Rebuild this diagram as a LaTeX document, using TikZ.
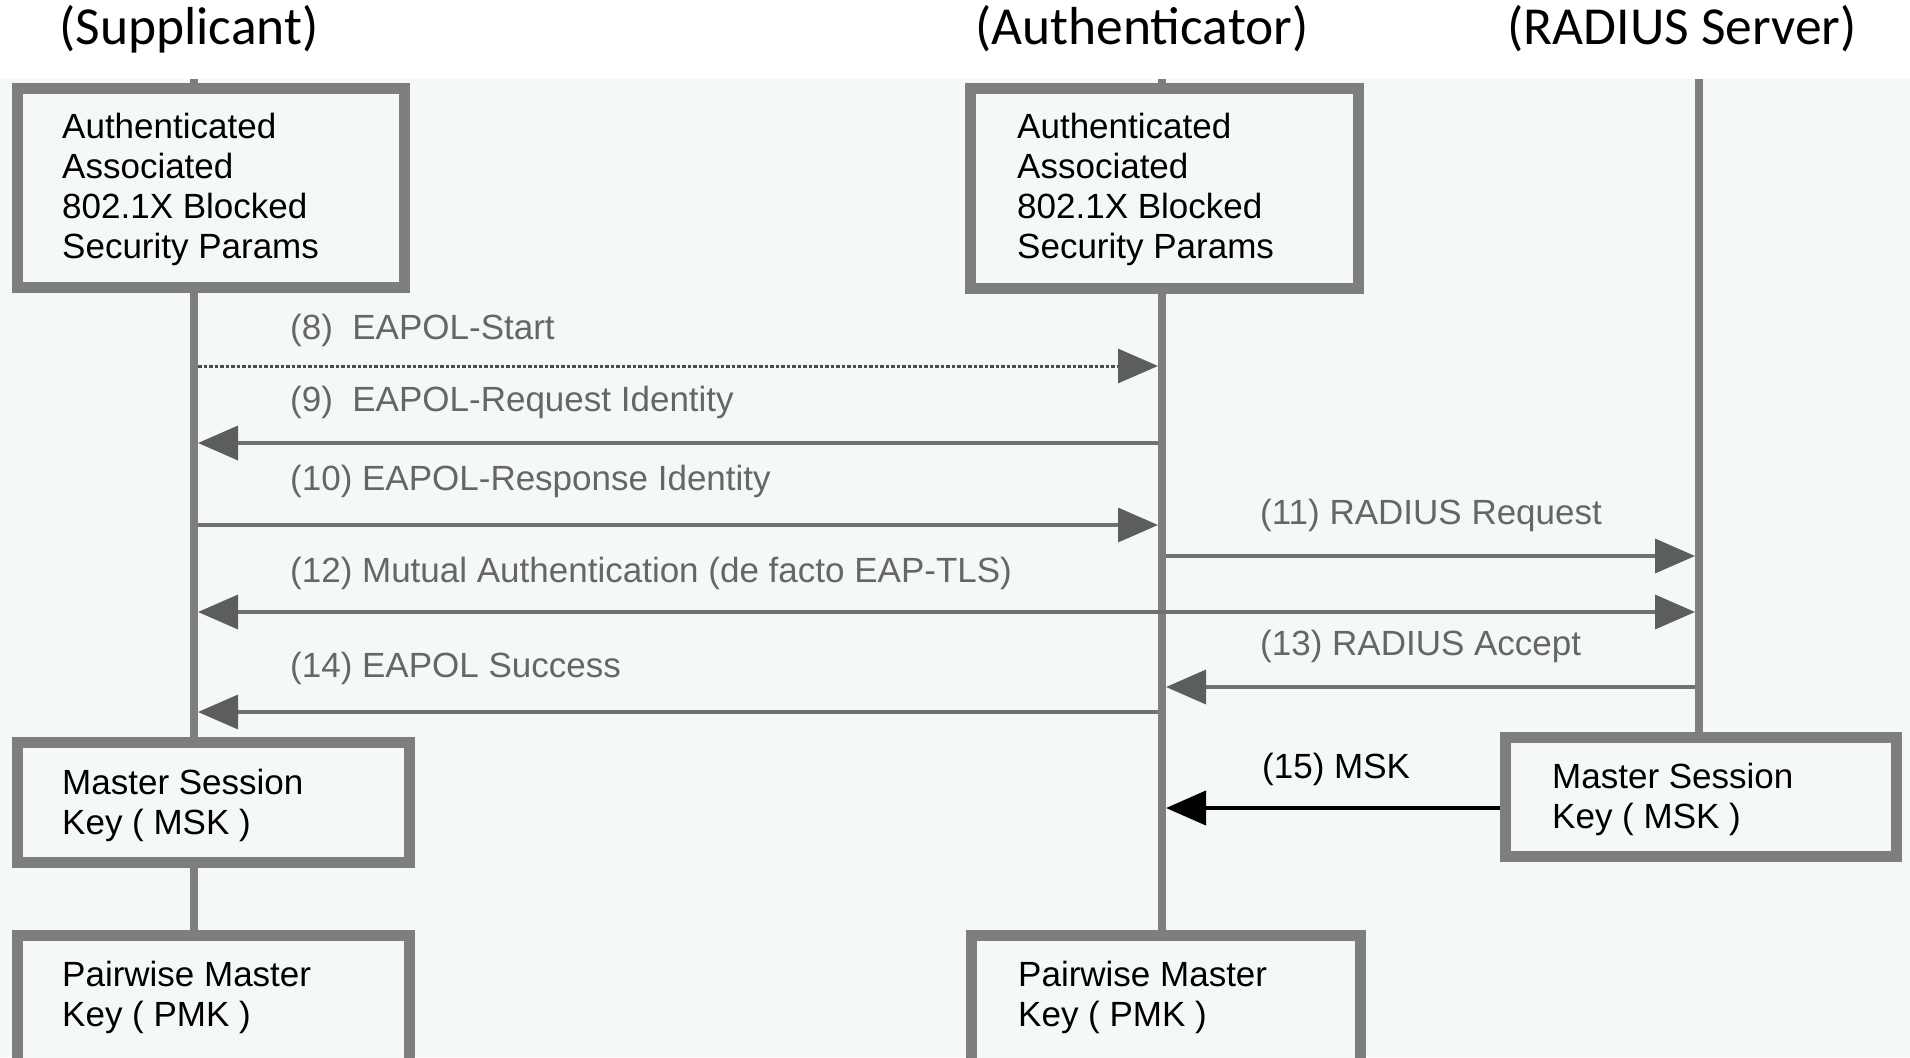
\documentclass[tikz,border=0pt]{standalone}
\usepackage{fontspec}
\setmainfont{Liberation Sans}
\newfontfamily\titlefont{Carlito}
\usetikzlibrary{arrows.meta}
\definecolor{bg}{RGB}{245,249,246}
\definecolor{frame}{RGB}{125,126,125}
\definecolor{msg}{RGB}{112,113,113}
\definecolor{msgtext}{RGB}{102,102,102}
\definecolor{head}{RGB}{92,93,93}
\begin{document}
\begin{tikzpicture}[x=1pt,y=-1pt,
  box/.style={draw=frame, line width=11pt, fill=bg, inner sep=0pt},
  life/.style={draw=frame, line width=8pt},
  btext/.style={anchor=base west, align=left, inner sep=0pt, font=\fontsize{35}{40}\selectfont},
  ltext/.style={anchor=base west, inner sep=0pt, text=msgtext, font=\fontsize{35}{40}\selectfont},
  ttext/.style={anchor=base, inner sep=0pt, font=\titlefont\fontsize{53.5}{60}\selectfont},
  msgarrow/.style={draw=msg, line width=3.5pt, -{Triangle[length=40pt,width=34pt,color=head]}},
  mskarrow/.style={draw=black, line width=4pt, -{Triangle[length=40pt,width=34pt,color=black]}}
]
\clip (0,0) rectangle (1910,1057);
\fill[white] (0,0) rectangle (1910,1057);
\fill[bg] (0,79) rectangle (1910,1057);

% titles
\node[ttext] (tS) at (189,45) {(Supplicant)};
\node[ttext] (tA) at (1142,45) {(Authenticator)};
\node[ttext] (tR) at (1682,45) {(RADIUS Server)};

% lifelines
\coordinate (Stop) at (194,79);
\coordinate (Sbot) at (194,940);
\coordinate (Atop) at (1162,79);
\coordinate (Abot) at (1162,940);
\coordinate (Rtop) at (1699,79);
\coordinate (Rbot) at (1699,740);
\draw[life] (Stop) -- (Sbot);
\draw[life] (Atop) -- (Abot);
\draw[life] (Rtop) -- (Rbot);

% boxes
\node[box, minimum width=387pt, minimum height=199pt] (b1) at (211,188) {};
\node[box, minimum width=388pt, minimum height=200pt] (b2) at (1164.5,188.5) {};
\node[box, minimum width=392pt, minimum height=120pt] (m1) at (213.5,802.5) {};
\node[box, minimum width=391pt, minimum height=119pt] (mr) at (1701,797) {};
\node[box, minimum width=392pt, minimum height=190pt] (p1) at (213.5,1030) {};
\node[box, minimum width=389pt, minimum height=190pt] (p2) at (1166,1030) {};

% box texts (anchor at the baseline of the last line)
\node[btext] (b1t) at (62,258) {Authenticated\\Associated\\802.1X Blocked\\Security Params};
\node[btext] (b2t) at (1017,258) {Authenticated\\Associated\\802.1X Blocked\\Security Params};
\node[btext] (m1t) at (62,834) {Master Session\\Key ( MSK )};
\node[btext] (mrt) at (1552,828) {Master Session\\Key ( MSK )};
\node[btext] (p1t) at (62,1026) {Pairwise Master\\Key ( PMK )};
\node[btext] (p2t) at (1018,1026) {Pairwise Master\\Key ( PMK )};

% message end points on lifelines
\coordinate (s8) at (198,366);   \coordinate (a8) at (1158,366);
\coordinate (s9) at (198,443);   \coordinate (a9) at (1158,443);
\coordinate (s10) at (198,525);  \coordinate (a10) at (1158,525);
\coordinate (a11) at (1166,556); \coordinate (r11) at (1695,556);
\coordinate (s12) at (198,612);  \coordinate (r12) at (1695,612);
\coordinate (a13) at (1166,687); \coordinate (r13) at (1695,687);
\coordinate (s14) at (198,712);  \coordinate (a14) at (1158,712);
\coordinate (a15) at (1166,808);

% messages
\draw[msgarrow, draw=black!70, dotted, line width=3pt] (s8) -- (a8);
\draw[msgarrow] (a9) -- (s9);
\draw[msgarrow] (s10) -- (a10);
\draw[msgarrow] (a11) -- (r11);
\draw[msgarrow, {Triangle[length=40pt,width=34pt,color=head]}-{Triangle[length=40pt,width=34pt,color=head]}] (s12) -- (r12);
\draw[msgarrow] (r13) -- (a13);
\draw[msgarrow] (a14) -- (s14);
\draw[mskarrow] ([yshift=-11pt]mr.west) -- (a15);

% labels
\node[ltext] (l8) at (290,339) {(8)\ \ EAPOL-Start};
\node[ltext] (l9) at (290,411) {(9)\ \ EAPOL-Request Identity};
\node[ltext] (l10) at (290,490) {(10) EAPOL-Response Identity};
\node[ltext] (l11) at (1260,524) {(11) RADIUS Request};
\node[ltext] (l12) at (290,582) {(12) Mutual Authentication (de facto EAP-TLS)};
\node[ltext] (l13) at (1260,655) {(13) RADIUS Accept};
\node[ltext] (l14) at (290,677) {(14) EAPOL Success};
\node[ltext, text=black] (l15) at (1262,778) {(15) MSK};
\end{tikzpicture}
\end{document}
